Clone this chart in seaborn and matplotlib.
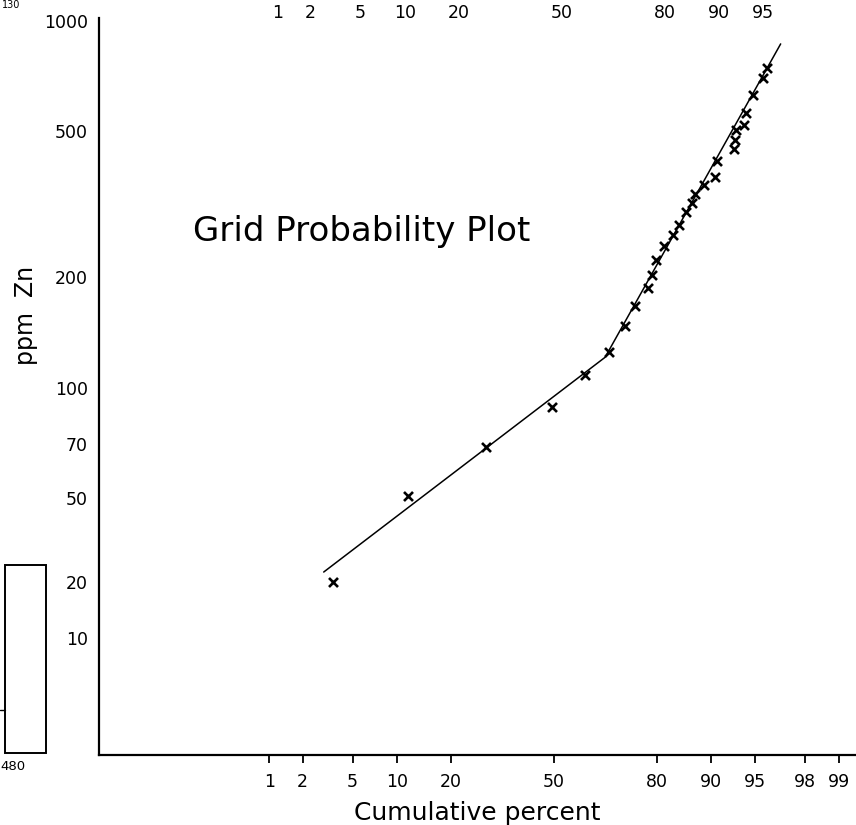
import math
import numpy as np
import pandas as pd
import matplotlib
matplotlib.use("Agg")
import matplotlib.pyplot as plt
import seaborn as sns
from matplotlib.patches import Rectangle
from matplotlib.lines import Line2D
from matplotlib.ticker import NullLocator

# ---------------- data ----------------
cum_percent = [3.55, 11.7, 28.9, 49.4, 60.0, 67.3, 71.9, 74.6, 77.8, 78.8,
               79.7, 81.6, 83.5, 84.7, 86.0, 87.1, 87.6, 89.0, 90.6, 90.8,
               92.9, 93.0, 93.1, 94.0, 94.2, 94.8, 95.6, 95.9]
ppm_zn = [20, 50.5, 69, 88.6, 108, 125, 147, 167, 187, 203,
          223, 243, 261, 278, 302, 318, 337, 358, 375, 416,
          448, 475, 505, 522, 561, 628, 699, 745]
fit_percent = [3.0, 66.2, 96.8]
fit_ppm = [22.3, 121, 866]

bottom_ticks = [1, 2, 5, 10, 20, 50, 80, 90, 95, 98, 99]
top_ticks = [1, 2, 5, 10, 20, 50, 80, 90, 95]
y_ticks = [1000, 500, 200, 100, 70, 50, 20, 10]

title_text = "Grid Probability Plot"
x_label = "Cumulative percent"
y_label = "ppm  Zn"

# ---------------- scales ----------------
_z = np.linspace(-6, 6, 6001)
_p = 50.0 * (1.0 + np.array([math.erf(v / math.sqrt(2.0)) for v in _z]))


def prob_fwd(p):
    return np.interp(np.asarray(p, float), _p, _z)


def prob_inv(z):
    return np.interp(np.asarray(z, float), _z, _p)


# the printed ppm axis: logarithmic above 50, compressed below (as drawn)
_ylog = np.array([-1.0, 1.0, np.log10(20), np.log10(50), 3.0, 4.0])
_yu = -np.array([1010.0, 638.0, 582.0, 498.0, 21.0, -345.6])


def y_fwd(v):
    v = np.clip(np.asarray(v, float), 1e-6, None)
    return np.interp(np.log10(v), _ylog, _yu)


def y_inv(u):
    return 10.0 ** np.interp(np.asarray(u, float), _yu, _ylog)


# ---------------- figure ----------------
sns.set_style("white")
plt.rcParams["font.family"] = ["DejaVu Sans"]
plt.rcParams["text.color"] = "black"
plt.rcParams["axes.labelcolor"] = "black"
plt.rcParams["xtick.color"] = "black"
plt.rcParams["ytick.color"] = "black"

W, H = 856, 825
fig = plt.figure(figsize=(W / 100, H / 100), dpi=100)
ax_left, ax_right, ax_bottom, ax_top = 99, 856, 755, 18
ax = fig.add_axes([ax_left / W, (H - ax_bottom) / H,
                   (ax_right - ax_left) / W, (ax_bottom - ax_top) / H])
ax.set_xscale("function", functions=(prob_fwd, prob_inv))
ax.set_yscale("function", functions=(y_fwd, y_inv))

df_pts = pd.DataFrame({"pct": cum_percent, "ppm": ppm_zn})
df_fit = pd.DataFrame({"pct": fit_percent, "ppm": fit_ppm})

sns.lineplot(data=df_fit, x="pct", y="ppm", ax=ax, sort=False, estimator=None,
             color="black", linewidth=1.1)
sns.scatterplot(data=df_pts, x="pct", y="ppm", ax=ax, marker="x", s=42,
                color="black", linewidth=1.9, zorder=3)

xlo, xhi = 0.0101, 99.32
ax.set_xlim(xlo, xhi)
ax.set_ylim(2.35, 1019)

ax.set_xticks(bottom_ticks)
ax.set_xticklabels([str(t) for t in bottom_ticks])
ax.set_yticks(y_ticks)
ax.set_yticklabels([str(t) for t in y_ticks])
ax.xaxis.set_minor_locator(NullLocator())
ax.yaxis.set_minor_locator(NullLocator())
ax.tick_params(axis="x", direction="out", length=6, width=1.3, pad=7,
               labelsize=12.5, colors="black")
ax.tick_params(axis="y", direction="out", length=5, width=1.3, pad=3,
               labelsize=12.5, colors="black")

for s in ["top", "right"]:
    ax.spines[s].set_visible(False)
for s in ["left", "bottom"]:
    ax.spines[s].set_linewidth(1.6)
    ax.spines[s].set_color("black")

ax.set_xlabel(x_label, fontsize=18, labelpad=7)
ax.set_ylabel("")
fig.text(26 / W, (H - 315) / H, y_label, rotation=90, fontsize=17,
         ha="center", va="center")

ax.text((193 - ax_left) / (ax_right - ax_left),
        (ax_bottom - 241) / (ax_bottom - ax_top),
        title_text, transform=ax.transAxes, fontsize=24.5,
        ha="left", va="baseline")

# top percent labels (printed slightly offset to the right)
ax2 = ax.twiny()
ax2.set_xscale("function", functions=(prob_fwd, prob_inv))
shift = 8.0 / 122.4
ax2.set_xlim(float(prob_inv(prob_fwd(xlo) - shift)),
             float(prob_inv(prob_fwd(xhi) - shift)))
ax2.set_xticks(top_ticks)
ax2.set_xticklabels([str(t) for t in top_ticks])
ax2.xaxis.set_minor_locator(NullLocator())
ax2.tick_params(axis="x", length=0, pad=-3, labelsize=12.5, colors="black")
for s in ax2.spines.values():
    s.set_visible(False)

# fragment of neighbouring figure at the left edge
fig.add_artist(Rectangle((5 / W, (H - 753) / H), 41 / W, 188 / H,
                         transform=fig.transFigure, fill=False,
                         edgecolor="black", linewidth=1.4))
fig.add_artist(Line2D([0, 5 / W], [(H - 710) / H] * 2,
                      transform=fig.transFigure, color="black", linewidth=1))
fig.text(13 / W, (H - 767) / H, "480", fontsize=9.5, ha="center", va="center")
fig.text(11 / W, (H - 5) / H, "130", fontsize=7, ha="center", va="center")

fig.savefig("out.png", dpi=100)
